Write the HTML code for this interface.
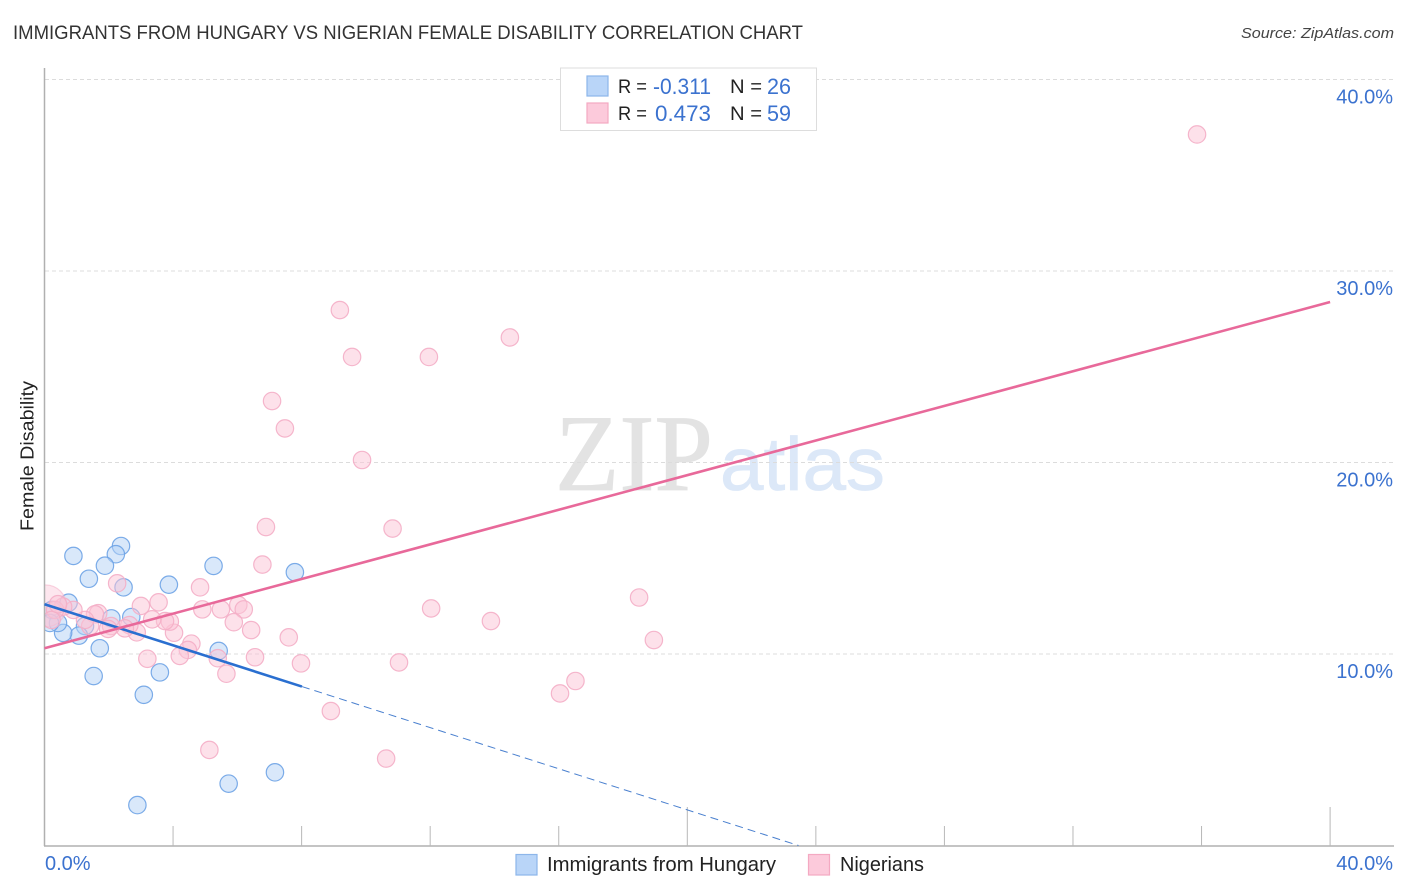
<!DOCTYPE html>
<html>
<head>
<meta charset="utf-8">
<title>Immigrants from Hungary vs Nigerian Female Disability Correlation Chart</title>
<style>
html,body{margin:0;padding:0;background:#fff;width:1406px;height:892px;overflow:hidden}
svg{display:block;font-family:"Liberation Sans",sans-serif}
</style>
</head>
<body>
<svg id="chart" width="1406" height="892" viewBox="0 0 1406 892" xmlns="http://www.w3.org/2000/svg">
  <text x="13" y="39" font-size="19" fill="#333" textLength="790" lengthAdjust="spacingAndGlyphs">IMMIGRANTS FROM HUNGARY VS NIGERIAN FEMALE DISABILITY CORRELATION CHART</text>
  <text x="1241" y="38" font-size="15" font-style="italic" fill="#444" textLength="153" lengthAdjust="spacingAndGlyphs">Source: ZipAtlas.com</text>
  <g>
    <text x="555" y="490" font-family="'Liberation Serif',serif" font-size="109" fill="#e3e3e3" stroke="#e3e3e3" stroke-width="0.8" textLength="158" lengthAdjust="spacingAndGlyphs">ZIP</text>
    <text x="720" y="490" font-size="75" fill="#dce8f8" stroke="#dce8f8" stroke-width="0.8" textLength="165" lengthAdjust="spacingAndGlyphs">atlas</text>
  </g>
  <g id="grid"></g>
  <g id="points"></g>
  <rect x="0" y="560" width="44.5" height="100" fill="#fff"/>
  <g id="axes"></g>
  <g id="trends"></g>
  <g id="labels"></g>
  <text transform="translate(33.5,456) rotate(-90)" font-size="18" fill="#222" text-anchor="middle" textLength="150" lengthAdjust="spacingAndGlyphs">Female Disability</text>

  <g>
    <rect x="560.5" y="68" width="256" height="62.5" fill="#fff" stroke="#ddd" stroke-width="1"/>
    <rect x="587" y="76" width="21" height="20" fill="#b9d5f8" stroke="#8db6ea" stroke-width="1.2"/>
    <rect x="587" y="103" width="21" height="20" fill="#fccadb" stroke="#f4a9c2" stroke-width="1.2"/>
    <text x="618" y="93" font-size="19" fill="#222" textLength="29" lengthAdjust="spacingAndGlyphs">R =</text>
    <text x="653" y="94" font-size="22" fill="#3b72cf" textLength="58" lengthAdjust="spacingAndGlyphs">-0.311</text>
    <text x="730" y="93" font-size="19" fill="#222" textLength="32" lengthAdjust="spacingAndGlyphs">N =</text>
    <text x="767" y="94" font-size="22" fill="#3b72cf" textLength="24" lengthAdjust="spacingAndGlyphs">26</text>
    <text x="618" y="120" font-size="19" fill="#222" textLength="29" lengthAdjust="spacingAndGlyphs">R =</text>
    <text x="655" y="121" font-size="22" fill="#3b72cf" textLength="56" lengthAdjust="spacingAndGlyphs">0.473</text>
    <text x="730" y="120" font-size="19" fill="#222" textLength="32" lengthAdjust="spacingAndGlyphs">N =</text>
    <text x="767" y="121" font-size="22" fill="#3b72cf" textLength="24" lengthAdjust="spacingAndGlyphs">59</text>
  </g>

  <g>
    <rect x="516" y="854.5" width="21" height="20.5" fill="#b9d5f8" stroke="#8db6ea" stroke-width="1.2"/>
    <text x="547" y="871" font-size="20" fill="#222" textLength="229" lengthAdjust="spacingAndGlyphs">Immigrants from Hungary</text>
    <rect x="808.5" y="854.5" width="21" height="20.5" fill="#fccadb" stroke="#f4a9c2" stroke-width="1.2"/>
    <text x="840" y="871" font-size="20" fill="#222" textLength="84" lengthAdjust="spacingAndGlyphs">Nigerians</text>
  </g>
</svg>
<script>
const yTicks = [10, 20, 30, 40];
const yTickLabels = ["10.0%", "20.0%", "30.0%", "40.0%"];
const xTicks = [0, 4, 8, 12, 16, 20, 24, 28, 32, 36, 40];
const xMajorTicks = [20, 40];
const xEndTicks = [0, 40];
const xEndLabels = ["0.0%", "40.0%"];

const hungaryX = [0.90,2.38,2.22,1.88,1.38,2.46,3.87,5.26,7.79,0.75,2.08,2.70,1.26,1.07,0.58,0.42,0.23,0.17,1.72,5.42,1.53,3.59,3.09,7.17,5.73,2.89];
const hungaryY = [15.12,15.64,15.21,14.61,13.93,13.48,13.62,14.60,14.27,12.68,11.86,11.93,11.46,10.96,11.10,11.62,12.30,11.62,10.30,10.16,8.85,9.04,7.87,3.82,3.23,2.11];

const nigeriansX = [0.03,35.86,9.19,14.48,9.57,11.96,7.08,7.48,9.88,6.89,10.83,6.78,2.26,4.84,3.55,3.00,18.50,12.03,6.03,6.20,4.91,5.49,5.89,6.43,13.89,7.60,18.96,7.98,6.55,5.66,5.39,4.57,4.46,4.21,3.20,4.03,3.90,3.75,3.35,2.87,2.64,2.50,2.07,1.98,1.67,1.57,1.42,1.26,0.90,0.58,0.33,0.22,0.42,11.03,16.52,16.04,8.91,5.13,10.63];
const nigeriansY = [12.51,37.13,27.96,26.53,25.51,25.51,23.21,21.78,20.13,16.63,16.55,14.67,13.69,13.48,12.70,12.51,12.95,12.38,12.56,12.33,12.33,12.33,11.66,11.25,11.72,10.87,10.73,9.51,9.83,8.97,9.78,10.54,10.21,9.90,9.75,11.11,11.69,11.72,11.81,11.13,11.51,11.34,11.46,11.31,12.13,12.07,11.46,11.78,12.30,12.47,12.30,11.78,12.60,9.56,8.59,7.94,7.02,4.99,4.54];
const nigeriansLargeIndex = 0;

const hungaryTrendX = [0, 8.01];
const hungaryTrendY = [12.6, 8.3];
const hungaryProjectionX = [8.01, 23.46];
const hungaryProjectionY = [8.3, 0];
const nigeriansTrendX = [0, 40];
const nigeriansTrendY = [10.3, 28.38];

const NS = "http://www.w3.org/2000/svg";
function xPos(v) { return 44.5 + v * 32.14; }
function yPos(v) { return 845.5 - v * 19.15; }
function make(tag, parentId, attrs) {
  const el = document.createElementNS(NS, tag);
  for (const k in attrs) el.setAttribute(k, attrs[k]);
  document.getElementById(parentId).appendChild(el);
  return el;
}

yTicks.forEach(function (t) {
  const g = make("line", "grid", {x1: 45, x2: 1394, y1: yPos(t), y2: yPos(t), stroke: "#dcdcdc", "stroke-width": 1, "stroke-dasharray": "4 3"});
  
  
});

const yAxis = make("line", "axes", {x1: 44.5, x2: 44.5, y1: 68, y2: 846, stroke: "#b0b0b0", "stroke-width": 1.5});


const xAxis = make("line", "axes", {x1: 44, x2: 1394, y1: 846, y2: 846, stroke: "#b0b0b0", "stroke-width": 1.5});


xTicks.slice(1).forEach(function (t) {
  const top = xMajorTicks.indexOf(t) >= 0 ? 807 : 826;
  const tick = make("line", "axes", {x1: xPos(t), x2: xPos(t), y1: top, y2: 846, stroke: "#b8b8b8", "stroke-width": 1});
  
  
});

function drawPoints(xs, ys, fill, stroke, name) {
  xs.forEach(function (x, i) {
    const big = name === "point-nigerians" && i === nigeriansLargeIndex;
    const c = make("circle", "points", {cx: xPos(x), cy: yPos(ys[i]), r: big ? 21 : 8.7, fill: fill, "fill-opacity": big ? 0.42 : 0.5, stroke: stroke, "stroke-opacity": big ? 0.55 : 0.9, "stroke-width": 1.2});
    
    
  });
}
drawPoints(hungaryX, hungaryY, "#b4d1f5", "#6ea3e6", "point-hungary");
drawPoints(nigeriansX, nigeriansY, "#fbc3d6", "#f4aec6", "point-nigerians");

const hLine = make("line", "trends", {x1: xPos(hungaryTrendX[0]), y1: yPos(hungaryTrendY[0]), x2: xPos(hungaryTrendX[1]), y2: yPos(hungaryTrendY[1]), stroke: "#2a6fd0", "stroke-width": 2.6});


const hProj = make("line", "trends", {x1: xPos(hungaryProjectionX[0]), y1: yPos(hungaryProjectionY[0]), x2: xPos(hungaryProjectionX[1]), y2: yPos(hungaryProjectionY[1]), stroke: "#4a80cf", "stroke-width": 1, "stroke-dasharray": "8 5"});


const nLine = make("line", "trends", {x1: xPos(nigeriansTrendX[0]), y1: yPos(nigeriansTrendY[0]), x2: xPos(nigeriansTrendX[1]), y2: yPos(nigeriansTrendY[1]), stroke: "#e8699a", "stroke-width": 2.6});



yTicks.forEach(function (t, i) {
  const lbl = make("text", "labels", {x: 1393, y: yPos(t) + 24, "font-size": 20, fill: "#3b72cf", "text-anchor": "end"});
  lbl.textContent = yTickLabels[i];
  
  
});
xEndTicks.forEach(function (t, i) {
  const lbl = make("text", "labels", {x: i === 0 ? 45 : 1393, y: 870, "font-size": 20, fill: "#3b72cf", "text-anchor": i === 0 ? "start" : "end"});
  lbl.textContent = xEndLabels[i];
  
  
});
</script>
</body>
</html>
